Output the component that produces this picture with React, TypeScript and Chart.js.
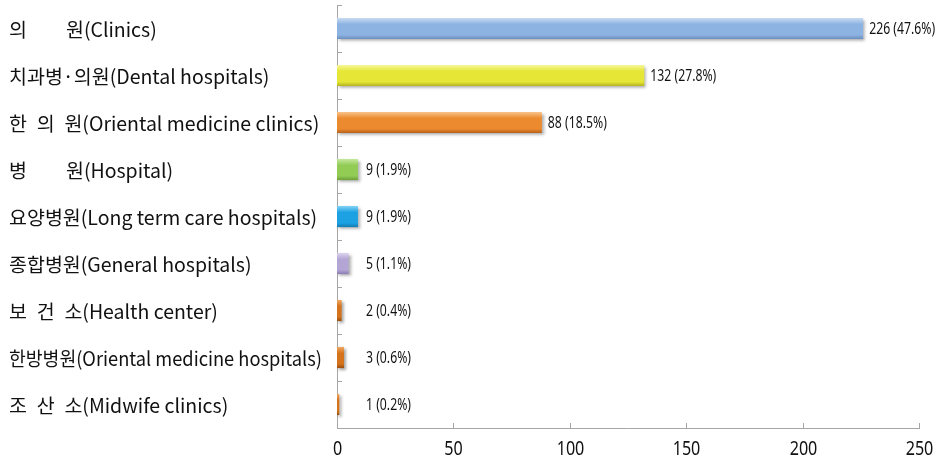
import React, { useEffect, useRef } from "react";
import { Chart, registerables } from "chart.js";
Chart.register(...registerables);

const categories = [
  "의　　원(Clinics)",
  "치과병·의원(Dental hospitals)",
  "한\u2002의\u2002원(Oriental medicine clinics)",
  "병　　원(Hospital)",
  "요양병원(Long term care hospitals)",
  "종합병원(General hospitals)",
  "보\u2002건\u2002소(Health center)",
  "한방병원(Oriental medicine hospitals)",
  "조\u2002산\u2002소(Midwife clinics)",
];
const counts = [226, 132, 88, 9, 9, 5, 2, 3, 1];
const shares = ["47.6", "27.8", "18.5", "1.9", "1.9", "1.1", "0.4", "0.6", "0.2"];
const xTicks = [0, 50, 100, 150, 200, 250];

// [light, mid, dark]
const barColors: string[][] = [
  ["#C9DBF2", "#8DB3E2", "#6A8DBE"],
  ["#F6F69C", "#E6E637", "#B3B31E"],
  ["#F9C48C", "#EC8A30", "#B5601A"],
  ["#C6E8A2", "#92CC55", "#6C9F38"],
  ["#86D3F6", "#1CA2E2", "#147CB2"],
  ["#DCD3EE", "#B3A6D5", "#8A7BB2"],
  ["#EFA865", "#D5731C", "#9A4D0E"],
  ["#EFA865", "#D5731C", "#9A4D0E"],
  ["#EFA865", "#D5731C", "#9A4D0E"],
];

const NUM_FONT = "'Noto Sans', 'DejaVu Sans', sans-serif";
const CAT_FONT = "'Noto Sans CJK KR', 'Noto Sans', sans-serif";
const AXIS_COLOR = "#a6a6a6";

function condensedText(ctx: any, text: string, x: number, y: number, sx: number, align: string) {
  ctx.save();
  ctx.translate(x, y);
  ctx.scale(sx, 1);
  ctx.textAlign = align;
  ctx.fillText(text, 0, 0);
  ctx.restore();
}

const decorPlugin = {
  id: "decor",
  beforeDatasetsDraw(chart: any) {
    const ctx = chart.ctx;
    ctx.save();
    ctx.shadowColor = "rgba(0,0,0,0.35)";
    ctx.shadowOffsetX = 2;
    ctx.shadowOffsetY = 2;
    ctx.shadowBlur = 3;
  },
  afterDatasetsDraw(chart: any) {
    chart.ctx.restore();
  },
  afterDraw(chart: any) {
    const ctx = chart.ctx;
    const xs = chart.scales.x;
    const ys = chart.scales.y;
    const area = chart.chartArea;
    ctx.save();
    ctx.strokeStyle = AXIS_COLOR;
    ctx.lineWidth = 1;
    for (let i = 0; i <= categories.length; i++) {
      const y = Math.round(ys.getPixelForValue(i - 0.5)) + 0.5;
      ctx.beginPath();
      ctx.moveTo(area.left, y);
      ctx.lineTo(area.left + 5, y);
      ctx.stroke();
    }
    ctx.fillStyle = "#111";
    ctx.textBaseline = "middle";
    ctx.font = `19px ${NUM_FONT}`;
    xTicks.forEach((v) => {
      const x = Math.round(xs.getPixelForValue(v)) + 0.5;
      ctx.beginPath();
      ctx.moveTo(x, area.bottom);
      ctx.lineTo(x, area.bottom - 5);
      ctx.stroke();
      condensedText(ctx, String(v), x, area.bottom + 22, 0.85, "center");
    });
    ctx.textAlign = "left";
    ctx.font = `19.5px ${CAT_FONT}`;
    ctx.fillStyle = "#111";
    categories.forEach((c, i) => {
      const y = ys.getPixelForValue(i);
      ctx.fillText(c, 9, y + 1, area.left - 24);
    });
    ctx.font = `17px ${NUM_FONT}`;
    const meta = chart.getDatasetMeta(0);
    const minX = xs.getPixelForValue(0) + 29;
    meta.data.forEach((el: any, i: number) => {
      const x = Math.max(el.x + 6, minX);
      condensedText(ctx, `${counts[i]} (${shares[i]}%)`, x, el.y + 1, 0.72, "left");
    });
    ctx.restore();
  },
};

export default function App() {
  const ref = useRef<HTMLCanvasElement>(null);
  useEffect(() => {
    document.body.style.margin = "0";
    const canvas = ref.current!;
    const chart = new Chart(canvas, {
      type: "bar",
      data: {
        labels: categories,
        datasets: [
          {
            data: counts,
            backgroundColor: (c: any) => {
              const cols = barColors[c.dataIndex] || barColors[0];
              const ch = c.chart;
              const ys = ch.scales && ch.scales.y;
              if (!ys || c.dataIndex === undefined) return cols[1];
              const center = ys.getPixelForValue(c.dataIndex);
              const band = Math.abs(ys.getPixelForValue(1) - ys.getPixelForValue(0));
              const half = (band * 0.45) / 2;
              if (!isFinite(center) || !isFinite(half) || half <= 0) return cols[1];
              const g = ch.ctx.createLinearGradient(0, center - half, 0, center + half);
              g.addColorStop(0, cols[0]);
              g.addColorStop(0.3, cols[1]);
              g.addColorStop(0.8, cols[1]);
              g.addColorStop(1, cols[2]);
              return g;
            },
            borderWidth: 0,
            barPercentage: 0.45,
            categoryPercentage: 1,
          },
        ],
      },
      options: {
        indexAxis: "y",
        animation: false,
        responsive: false,
        layout: { padding: { left: 337, right: 19, top: 5, bottom: 0 } },
        plugins: { legend: { display: false }, tooltip: { enabled: false } },
        scales: {
          x: {
            type: "linear",
            min: 0,
            max: 250,
            ticks: { display: false, stepSize: 50 },
            grid: { display: false, drawTicks: false },
            border: { display: true, color: AXIS_COLOR, width: 1 },
            afterFit: (s: any) => {
              s.height = 32;
            },
          },
          y: {
            type: "category",
            ticks: { display: false },
            grid: { display: false, drawTicks: false },
            border: { display: true, color: AXIS_COLOR, width: 1 },
            afterFit: (s: any) => {
              s.width = 0;
            },
          },
        },
      },
      plugins: [decorPlugin],
    } as any);
    return () => chart.destroy();
  }, []);
  return <canvas ref={ref} width={938} height={460} style={{ display: "block" }} />;
}
